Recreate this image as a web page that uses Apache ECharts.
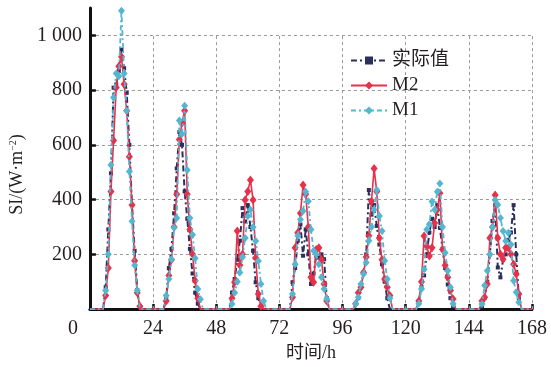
<!DOCTYPE html>
<html>
<head>
<meta charset="utf-8">
<script src="https://cdn.jsdelivr.net/npm/echarts@6/dist/echarts.min.js"></script>
<style>
  html, body { margin: 0; padding: 0; background: #fff; }
  #chart { width: 551px; height: 367px; }
</style>
</head>
<body>
<div id="chart"></div>
<script>
// Hourly solar irradiance over one week (hour 0 .. 168), W/m^2
const seriesNames = ['实际值', 'M2', 'M1'];
const xTicks = [24, 48, 72, 96, 120, 144, 168];
const yTicks = [0, 200, 400, 600, 800, 1000];

// measured values, one row per day
const actual = [
  0,0,0,0,0,0,80,291,496,809,820,870,948,880,790,600,380,213,70,0,0,0,0,0,
  0,0,0,0,0,40,150,220,350,514,647,600,430,330,220,130,60,20,0,0,0,0,0,0,
  0,0,0,0,0,0,60,110,180,250,369,320,380,300,213,98,40,10,0,0,0,0,0,0,
  0,0,0,0,0,98,150,250,309,195,291,200,92,130,195,188,200,182,40,0,0,0,0,0,
  0,0,0,0,0,20,40,80,134,200,435,345,380,304,236,164,100,40,0,0,0,0,0,0,
  0,0,0,0,0,30,80,123,200,280,330,300,380,297,220,150,90,40,10,0,0,0,0,0,
  0,0,0,0,0,10,40,100,200,322,380,152,116,180,200,253,280,380,200,40,0,0,0,0,
  0
];

// model M2 forecast
const m2 = [
  0,0,0,0,0,0,50,150,430,616,810,887,922,821,725,557,380,177,60,10,0,0,0,0,
  0,0,0,0,0,30,123,180,300,420,620,680,725,420,291,200,104,40,0,0,0,0,0,0,
  0,0,0,0,0,0,40,98,285,160,200,399,430,472,399,188,55,10,0,0,0,0,0,0,
  0,0,0,0,0,43,224,279,350,453,420,300,116,98,218,224,180,92,30,0,0,0,0,0,
  0,0,0,0,0,20,60,80,134,190,268,394,514,430,260,180,110,80,50,0,0,0,0,0,
  0,0,0,0,0,30,100,267,230,194,224,315,363,423,218,160,116,68,37,0,0,0,0,0,
  0,0,0,0,0,30,43,92,260,300,417,260,200,182,224,224,200,164,128,55,0,0,0,0,
  0
];

// model M1 forecast
const m1 = [
  0,0,0,0,0,0,68,200,526,773,861,851,1090,861,725,503,321,160,68,0,0,0,0,0,
  0,0,0,0,0,50,110,182,297,333,689,640,743,508,333,272,186,73,36,0,0,0,0,0,
  0,0,0,0,0,0,19,60,100,134,190,260,340,363,300,249,176,92,30,0,0,0,0,0,
  0,0,0,0,0,55,164,268,327,358,429,394,291,213,200,164,116,73,37,0,0,0,0,0,
  0,0,0,0,0,20,43,92,128,170,250,300,363,435,340,285,177,110,40,0,0,0,0,0,
  0,0,0,0,0,20,73,146,291,310,393,363,429,459,300,206,140,80,20,0,0,0,0,0,
  0,0,0,0,0,19,86,140,200,300,399,381,333,285,249,279,236,104,62,25,0,0,0,0,
  0
];

const FONT = "'Liberation Serif','Times New Roman','Noto Sans CJK SC',serif";
const TEXT = '#231f20';
const GRID_LINE = { color: '#9a9a9a', type: [3, 3], width: 1 };

const pairs = arr => arr.map((v, h) => [h, v]);
const fmtThousands = v => String(v).replace(/\B(?=(\d{3})+(?!\d))/g, ' ');
// markers are drawn only where the sun is up
const sizeFor = size => val => (val[1] === 0 ? 0 : size);

// vertical guide lines from 0 up to the top grid line
const vGuides = xTicks.map(x => [{ coord: [x, 0] }, { coord: [x, yTicks[yTicks.length - 1]] }]);

const chart = echarts.init(document.getElementById('chart'), null, { renderer: 'canvas' });
chart.setOption({
  animation: false,
  backgroundColor: '#fff',
  grid: { left: 84, right: 19, top: 8, bottom: 55, containLabel: false },
  legend: {
    data: seriesNames,
    orient: 'vertical',
    left: 345,
    top: 46,
    itemWidth: 36,
    itemHeight: 10,
    itemGap: 6,
    textStyle: { fontFamily: FONT, fontSize: 19, color: TEXT }
  },
  xAxis: {
    type: 'value',
    min: 0,
    max: 168,
    interval: 24,
    name: '时间/h',
    nameLocation: 'middle',
    nameGap: 34,
    nameTextStyle: { fontFamily: FONT, fontSize: 18, color: TEXT },
    axisLine: { show: true, lineStyle: { color: '#111', width: 3 } },
    axisTick: { show: true, inside: true, length: 5, lineStyle: { color: '#111', width: 2.5 } },
    axisLabel: {
      margin: 10,
      fontFamily: FONT, fontSize: 20, color: TEXT,
      formatter: v => (v === 0 ? '' : String(v))
    },
    splitLine: { show: false }
  },
  yAxis: {
    type: 'value',
    min: 0,
    max: 1100,
    interval: 200,
    name: 'SI/(W·m{sup|−2})',
    nameLocation: 'middle',
    nameGap: 56,
    nameRotate: 90,
    nameTextStyle: {
      fontFamily: FONT, fontSize: 18, color: TEXT,
      padding: [0, 32, 0, 0],
      rich: { sup: { fontFamily: FONT, fontSize: 10, color: TEXT, verticalAlign: 'top', padding: [0, 0, 8, 0] } }
    },
    axisLine: { show: true, lineStyle: { color: '#111', width: 3 } },
    axisTick: { show: true, inside: true, length: 6, lineStyle: { color: '#111', width: 2.5 } },
    axisLabel: {
      margin: 8,
      showMaxLabel: false,
      fontFamily: FONT, fontSize: 20, color: TEXT,
      formatter: v => (v === 0 ? '{z|0}' : fmtThousands(v)),
      rich: { z: { fontFamily: FONT, fontSize: 20, color: TEXT, padding: [40, 4, 0, 0] } }
    },
    splitLine: { show: true, showMinLine: false, showMaxLine: false, lineStyle: GRID_LINE }
  },
  series: [
    {
      name: seriesNames[0],
      type: 'line',
      data: pairs(actual),
      color: '#2b2f5e',
      symbol: 'rect',
      symbolSize: sizeFor(4),
      showAllSymbol: true,
      lineStyle: { width: 2, type: [6, 3, 2, 3] },
      z: 3,
      markLine: {
        silent: true,
        symbol: 'none',
        label: { show: false },
        lineStyle: GRID_LINE,
        emphasis: { disabled: true },
        data: vGuides,
        z: 1
      }
    },
    {
      name: seriesNames[1],
      type: 'line',
      data: pairs(m2),
      color: '#e8304a',
      symbol: 'diamond',
      symbolSize: sizeFor([7, 9]),
      showAllSymbol: true,
      lineStyle: { width: 1.6 },
      z: 4
    },
    {
      name: seriesNames[2],
      type: 'line',
      data: pairs(m1),
      color: '#55b6d0',
      symbol: 'diamond',
      symbolSize: sizeFor([7, 8]),
      showAllSymbol: true,
      lineStyle: { width: 1.8, type: [5, 3, 2, 3] },
      z: 5
    }
  ]
});
</script>
</body>
</html>
